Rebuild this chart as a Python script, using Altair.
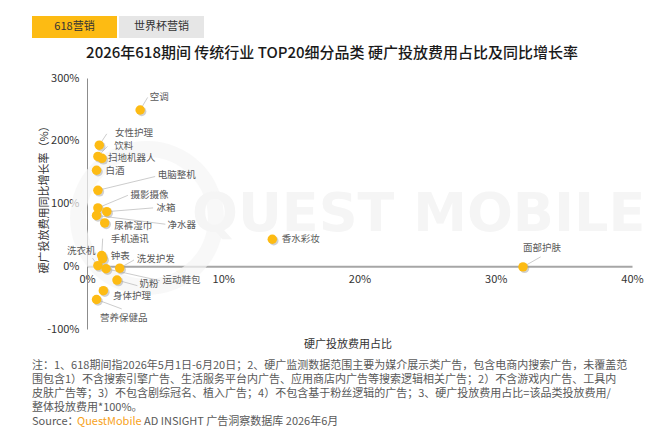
import altair as alt
import pandas as pd

# ---------------- data ----------------
names = ["空调", "女性护理", "饮料", "扫地机器人", "白酒", "电脑整机", "摄影摄像", "冰箱",
         "净水器", "尿裤湿巾", "手机通讯", "钟表", "洗衣机", "运动鞋包", "洗发护发", "奶粉",
         "身体护理", "营养保健品", "香水彩妆", "面部护肤"]
# hard-ad spend share (%)
share = [3.9, 0.9, 0.8, 1.1, 0.7, 0.8, 0.8, 1.45, 0.7, 1.3, 1.08, 1.15, 0.8, 1.4, 2.4,
         2.2, 1.2, 0.7, 13.6, 32.0]
# YoY growth (%)
growth = [249, 193, 175, 172, 153, 121, 93, 87, 81, 69, 17, 12, 1, -4, -3, -22, -39, -53,
          43, -1]

# label anchors (data units) and leader-line ends (None = no leader)
label_x = [4.6, 2.05, 2.0, 1.55, 1.35, 5.2, 3.2, 5.1, 5.9, 2.0, 1.75, 1.75, -1.47, 5.55,
           3.65, 3.85, 1.9, 0.95, 14.3, 32.0]
label_y = [269, 212, 192, 173, 152, 145, 114, 93, 66, 64, 44, 16, 25, -22, 11, -29, -48,
           -82, 43, 29]
lead_x = [4.45, 1.45, 1.5, None, None, 5.0, 3.0, 4.85, 5.75, None, 1.15, None, 0.4, 5.35,
          3.45, 3.7, None, 2.55, None, 33.3]
lead_y = [269, 211, 191, None, None, 143, 113, 93, 67, None, 44, None, 13, -23, 10, -31,
          None, -68, None, 15]

x_ticks = [0, 10, 20, 30, 40]
y_ticks = [-100, 0, 100, 200, 300]

title_text = "2026年618期间 传统行业 TOP20细分品类 硬广投放费用占比及同比增长率"
tabs = ["618营销", "世界杯营销"]
notes = [
    "注：1、618期间指2026年5月1日-6月20日；2、硬广监测数据范围主要为媒介展示类广告，包含电商内搜索广告，未覆盖范",
    "围包含1）不含搜索引擎广告、生活服务平台内广告、应用商店内广告等搜索逻辑相关广告；2）不含游戏内广告、工具内",
    "皮肤广告等；3）不包含剧综冠名、植入广告；4）不包含基于粉丝逻辑的广告；3、硬广投放费用占比=该品类投放费用/",
    "整体投放费用*100%。",
]
source_parts = ["Source：", "QuestMobile", "AD INSIGHT 广告洞察数据库 2026年6月"]

FONT = "Noto Sans CJK SC"
GOLD = "#FDBB13"
W, H = 545, 251

df = pd.DataFrame({
    "name": names, "share": share, "growth": growth,
    "lx": label_x, "ly": label_y, "ex": lead_x, "ey": lead_y,
})

xs = alt.Scale(domain=[0, 40], nice=False, zero=False)
ys = alt.Scale(domain=[-100, 300], nice=False, zero=False)

base = alt.Chart(df)

x_axis = alt.Axis(values=x_ticks, labelExpr="datum.value + '%'", title=None,
                  offset=-H * 100 / 400, domainColor="#A6A6A6", domainWidth=2,
                  ticks=False, grid=False, labelFlush=False, labelPadding=7,
                  labelFont=FONT, labelFontSize=11, labelColor="#333333")
y_axis = alt.Axis(values=y_ticks, labelExpr="datum.value + '%'", title=None,
                  domainColor="#8C8C8C", domainWidth=1, ticks=False, grid=False,
                  labelFlush=False, labelPadding=8,
                  labelFont=FONT, labelFontSize=11, labelColor="#333333")

# faint watermark
wm_ring = alt.Chart(pd.DataFrame({"a": [0]})).mark_point(
    shape="circle", filled=False, size=19000, strokeWidth=16, color="#F6F6F6"
).encode(x=alt.value(60), y=alt.value(140))
wm_text = alt.Chart(pd.DataFrame({"t": ["QUEST MOBILE"]})).mark_text(
    font="DejaVu Sans", fontSize=54, fontWeight="bold", color="#F5F5F5", align="left",
    baseline="middle"
).encode(x=alt.value(105), y=alt.value(137), text="t:N")

leaders = base.transform_filter("isValid(datum.ex)").mark_rule(
    color="#BFBFBF", strokeWidth=0.8
).encode(
    x=alt.X("share:Q", scale=xs, axis=x_axis),
    y=alt.Y("growth:Q", scale=ys, axis=y_axis),
    x2="ex:Q", y2="ey:Q",
)

shadow = base.mark_circle(size=90, color="#9A9A9A", opacity=0.45, xOffset=1.5,
                          yOffset=1.5).encode(
    x=alt.X("share:Q", scale=xs), y=alt.Y("growth:Q", scale=ys))
points = base.mark_circle(size=90, color=GOLD, opacity=1).encode(
    x=alt.X("share:Q", scale=xs), y=alt.Y("growth:Q", scale=ys),
    tooltip=["name:N", "share:Q", "growth:Q"])

labels = base.mark_text(font=FONT, fontSize=9.5, color="#595959", align="left",
                        baseline="middle").encode(
    x=alt.X("lx:Q", scale=xs), y=alt.Y("ly:Q", scale=ys), text="name:N")

# tabs
tab_df = pd.DataFrame({"t": tabs, "x": [-55, 32], "x2": [30, 117],
                       "fill": [GOLD, "#E6E6E6"]})
tab_rects = alt.Chart(tab_df).mark_rect().encode(
    x=alt.X("x:Q", scale=None), x2="x2:Q",
    y=alt.value(-62), y2=alt.value(-40),
    color=alt.Color("fill:N", scale=None, legend=None))
tab_text = alt.Chart(tab_df).transform_calculate(cx="(datum.x + datum.x2) / 2").mark_text(
    font=FONT, fontSize=11, color="#333333", align="center", baseline="middle"
).encode(x=alt.X("cx:Q", scale=None), y=alt.value(-51), text="t:N")

title = alt.Chart(pd.DataFrame({"t": [title_text]})).mark_text(
    font=FONT, fontSize=15, fontWeight=500, color="#1A1A1A", align="center",
    baseline="middle"
).encode(x=alt.value(245), y=alt.value(-25), text="t:N")

ytitle = alt.Chart(pd.DataFrame({"t": ["硬广投放费用同比增长率（%）"]})).mark_text(
    font=FONT, fontSize=11, color="#333333", angle=270, align="center", baseline="middle"
).encode(x=alt.value(-42), y=alt.value(119), text="t:N")
xtitle = alt.Chart(pd.DataFrame({"t": ["硬广投放费用占比"]})).mark_text(
    font=FONT, fontSize=11, color="#333333", align="center", baseline="middle"
).encode(x=alt.value(261), y=alt.value(267), text="t:N")

note_df = pd.DataFrame({"t": notes, "y": [288, 302, 316, 330]})
note_text = alt.Chart(note_df).mark_text(
    font=FONT, fontSize=11, color="#595959", align="left", baseline="middle"
).encode(x=alt.value(-55), y=alt.Y("y:Q", scale=None), text="t:N")

src_df = pd.DataFrame({"t": source_parts, "x": [-55, -10, 57],
                       "c": ["#595959", "#F7A21B", "#595959"]})
src_text = alt.Chart(src_df).mark_text(
    font=FONT, fontSize=11, align="left", baseline="middle"
).encode(x=alt.X("x:Q", scale=None), y=alt.value(344), text="t:N",
         color=alt.Color("c:N", scale=None, legend=None))

chart = alt.layer(
    wm_ring, wm_text, leaders, shadow, points, labels,
    tab_rects, tab_text, title, ytitle, xtitle, note_text, src_text
).properties(
    width=W, height=H,
    autosize=alt.AutoSizeParams(type="none"),
    padding={"left": 79, "top": 70, "right": 24, "bottom": 101},
    background="white",
).configure_view(strokeWidth=0)

chart.save("out.html", embed_options={"renderer": "svg", "actions": False})
